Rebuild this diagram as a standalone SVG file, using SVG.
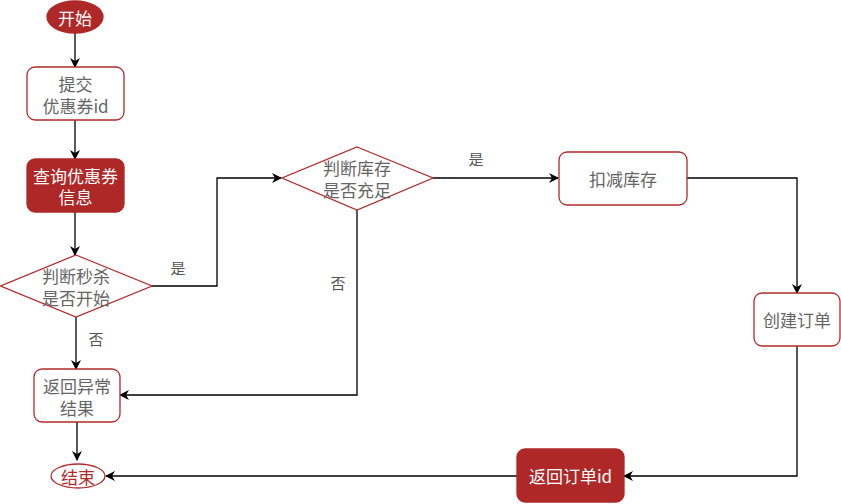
<svg xmlns="http://www.w3.org/2000/svg" width="841" height="504" viewBox="0 0 841 504">
<defs>
<marker id="arr" markerWidth="10" markerHeight="10" refX="9" refY="5" orient="auto" markerUnits="userSpaceOnUse">
<path d="M0,0 L10,5 L0,10 L3,5 Z" fill="#000"/>
</marker>
<style>
text{font-family:"Noto Sans CJK SC","Noto Sans",sans-serif;font-size:17px;text-anchor:middle;dominant-baseline:central}
.w{fill:#fff;stroke:#b22b2b;stroke-width:1.3}
.f{fill:#ae2828;stroke:#ae2828;stroke-width:1.3}
.tg{fill:#666}
.tw{fill:#fff}
.tr{fill:#b22b2b}
.c{fill:none;stroke:#000;stroke-width:1.3;marker-end:url(#arr)}
.lb{fill:#555;font-size:15px}
</style>
</defs>
<rect width="841" height="504" fill="#fff"/>
<g id="connectors">
<path class="c" d="M75,33 V67"/>
<path class="c" d="M75,120 V159"/>
<path class="c" d="M75,212 V255"/>
<path class="c" d="M152,286 H217 V178 H281"/>
<path class="c" d="M433,178 H558"/>
<path class="c" d="M687,178 H797 V293"/>
<path class="c" d="M797,346 V476 H624"/>
<path class="c" d="M517,476 H106"/>
<path class="c" d="M76,317 V369"/>
<path class="c" d="M357,210 V395 H120"/>
<path class="c" d="M77,422 V460"/>
<text class="lb" x="178" y="267">是</text>
<text class="lb" x="476" y="158">是</text>
<text class="lb" x="96" y="338">否</text>
<text class="lb" x="338" y="282">否</text>
</g>
<g id="start">
<ellipse class="f" cx="75" cy="17" rx="28" ry="16"/>
<text class="tw" x="75" y="17">开始</text>
</g>
<g id="submit">
<rect class="w" x="27" y="67" width="97" height="53" rx="8"/>
<text class="tg" x="75.5" y="83">提交<tspan x="75.5" dy="22">优惠券id</tspan></text>
</g>
<g id="query">
<rect class="f" x="27" y="159" width="97" height="53" rx="8"/>
<text class="tw" x="75.5" y="175">查询优惠券<tspan x="75.5" dy="21">信息</tspan></text>
</g>
<g id="decide1">
<polygon class="w" points="76,255 152,286 76,317 0.7,286"/>
<text class="tg" x="76" y="275">判断秒杀<tspan x="76" dy="22">是否开始</tspan></text>
</g>
<g id="decide2">
<polygon class="w" points="357,147 433,178 357,210 282,178"/>
<text class="tg" x="357" y="167">判断库存<tspan x="357" dy="22">是否充足</tspan></text>
</g>
<g id="reduce">
<rect class="w" x="559" y="152" width="128" height="53" rx="8"/>
<text class="tg" x="623" y="178.5">扣减库存</text>
</g>
<g id="create">
<rect class="w" x="754" y="293" width="86" height="53" rx="8"/>
<text class="tg" x="797" y="319.5">创建订单</text>
</g>
<g id="returnid">
<rect class="f" x="517" y="449" width="107" height="53" rx="8"/>
<text class="tw" x="570.5" y="475.5">返回订单id</text>
</g>
<g id="error">
<rect class="w" x="34" y="369" width="86" height="53" rx="8"/>
<text class="tg" x="77" y="385">返回异常<tspan x="77" dy="22">结果</tspan></text>
</g>
<g id="end">
<ellipse class="w" cx="78" cy="476" rx="27" ry="12"/>
<text class="tr" x="78" y="476">结束</text>
</g>
</svg>
